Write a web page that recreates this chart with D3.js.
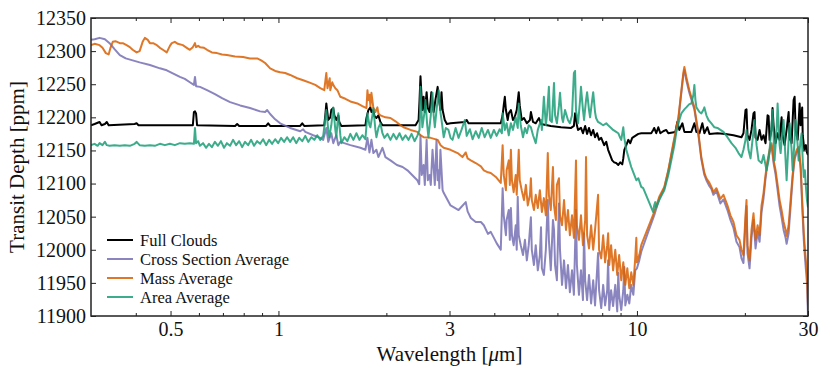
<!DOCTYPE html>
<html>
<head>
<meta charset="utf-8">
<script src="https://cdn.jsdelivr.net/npm/d3@7"></script>
<style>
  body { margin: 0; background: #fff; }
  svg { display: block; }
  text { font-family: "Liberation Serif", "DejaVu Serif", serif; fill: #111; }
</style>
</head>
<body>
<svg></svg>
<script>
// wavelength [um], transit depth [ppm]
const fullClouds = [
  [0.300,12188],[0.307,12190],[0.317,12193],[0.321,12188],[0.328,12190],[0.332,12193],[0.336,12188],[0.397,12190],[0.402,12191],[0.407,12188],
  [0.577,12188],[0.581,12208],[0.585,12209],[0.589,12206],[0.593,12188],[0.757,12187],[0.767,12190],[0.777,12187],[0.924,12187],[0.936,12191],
  [0.948,12187],[1.150,12187],[1.165,12191],[1.180,12187],[1.342,12188],[1.351,12203],[1.36,12221],[1.37,12206],[1.377,12196],[1.395,12200],
  [1.404,12211],[1.422,12214],[1.432,12203],[1.450,12196],[1.469,12203],[1.478,12193],[1.498,12187],[1.748,12188],[1.76,12199],[1.782,12211],
  [1.805,12215],[1.817,12208],[1.84,12211],[1.852,12202],[1.876,12199],[1.90,12203],[1.925,12193],[1.950,12188],[2.412,12188],[2.46,12196],
  [2.475,12226],[2.49,12262],[2.51,12226],[2.52,12211],[2.54,12231],[2.56,12208],[2.59,12238],[2.61,12214],[2.64,12208],[2.67,12238],
  [2.69,12218],[2.71,12208],[2.74,12226],[2.78,12246],[2.80,12229],[2.83,12211],[2.85,12238],[2.87,12211],[2.91,12196],[2.95,12190],
  [3.02,12191],[3.31,12193],[3.35,12196],[3.39,12191],[4.17,12191],[4.22,12203],[4.25,12218],[4.28,12231],[4.31,12211],[4.36,12196],
  [4.39,12206],[4.45,12211],[4.51,12196],[4.56,12200],[4.62,12211],[4.68,12238],[4.71,12218],[4.77,12196],[4.84,12199],[4.93,12191],
  [5.03,12196],[5.06,12208],[5.13,12193],[5.22,12191],[5.33,12199],[5.40,12190],[5.75,12187],[6.14,12185],[6.55,12184],[6.67,12187],
  [6.72,12206],[6.76,12199],[6.80,12188],[6.85,12181],[6.98,12184],[7.07,12176],[7.17,12187],[7.26,12175],[7.35,12184],[7.45,12173],
  [7.55,12181],[7.64,12170],[7.74,12176],[7.84,12166],[7.95,12169],[8.10,12158],[8.21,12163],[8.31,12151],[8.42,12143],[8.53,12135],
  [8.64,12132],[8.75,12131],[8.87,12128],[8.98,12132],[9.10,12129],[9.16,12138],[9.22,12151],[9.34,12158],[9.46,12166],[9.58,12161],
  [9.70,12169],[9.89,12172],[10.09,12175],[10.28,12176],[10.96,12176],[11.10,12181],[11.17,12184],[11.32,12176],[11.47,12185],[11.62,12176],
  [11.84,12179],[12.07,12181],[12.23,12176],[12.80,12178],[12.96,12193],[13.13,12181],[13.39,12191],[13.56,12178],[14.18,12178],[14.46,12191],
  [14.65,12178],[14.94,12176],[15.22,12191],[15.42,12176],[15.72,12185],[15.93,12175],[16.77,12176],[17.66,12175],[18.59,12173],[19.57,12170],
  [19.82,12176],[20.08,12211],[20.21,12212],[20.34,12173],[20.61,12166],[20.87,12181],[21.14,12206],[21.28,12208],[21.42,12169],[21.70,12166],
  [21.98,12181],[22.26,12166],[22.55,12173],[22.84,12161],[23.14,12203],[23.29,12202],[23.44,12166],[23.74,12181],[23.89,12214],[24.05,12188],
  [24.36,12161],[24.68,12176],[25.00,12166],[25.32,12200],[25.48,12173],[25.81,12158],[26.15,12181],[26.49,12208],[26.66,12169],[27.00,12161],
  [27.35,12226],[27.53,12231],[27.71,12181],[28.07,12166],[28.43,12221],[28.61,12188],[28.9,12215],[29.0,12173],[29.3,12151],[29.6,12158],
  [29.8,12147],[30.0,12143]
];

const crossSection = [
  [0.300,12317],[0.307,12318],[0.317,12320],[0.328,12318],[0.338,12312],[0.349,12303],[0.361,12294],[0.375,12289],[0.392,12286],[0.410,12283],
  [0.438,12279],[0.467,12274],[0.488,12271],[0.514,12265],[0.531,12261],[0.548,12258],[0.566,12253],[0.581,12249],[0.585,12261],[0.589,12247],
  [0.604,12246],[0.632,12241],[0.665,12235],[0.696,12229],[0.733,12223],[0.782,12218],[0.833,12214],[0.889,12209],[0.918,12208],[0.930,12211],
  [0.948,12205],[0.979,12197],[1.011,12191],[1.078,12184],[1.150,12179],[1.172,12182],[1.188,12178],[1.25,12173],[1.308,12169],[1.333,12166],
  [1.36,12184],[1.377,12163],[1.404,12176],[1.422,12161],[1.450,12173],[1.469,12158],[1.488,12163],[1.587,12158],[1.692,12154],[1.748,12151],
  [1.771,12169],[1.794,12147],[1.817,12166],[1.84,12146],[1.876,12151],[1.90,12140],[1.95,12154],[1.988,12140],[2.053,12135],[2.14,12128],
  [2.22,12125],[2.29,12120],[2.36,12113],[2.44,12105],[2.47,12099],[2.49,12173],[2.51,12113],[2.54,12128],[2.56,12098],[2.59,12166],
  [2.61,12105],[2.64,12113],[2.66,12098],[2.69,12151],[2.73,12098],[2.76,12166],[2.78,12105],[2.80,12120],[2.81,12093],[2.83,12151],
  [2.87,12090],[2.89,12086],[3.02,12067],[3.18,12060],[3.33,12072],[3.37,12058],[3.44,12048],[3.55,12042],[3.67,12042],[3.74,12037],
  [3.84,12024],[3.91,12027],[3.99,12018],[4.06,12010],[4.17,12000],
  [4.22,12093],[4.25,12052],[4.31,12022],[4.33,12045],[4.39,12060],[4.42,12015],[4.45,12063],[4.48,12022],[4.53,12007],[4.59,12037],
  [4.62,12000],[4.65,12080],[4.68,12022],[4.74,12007],[4.81,11992],[4.87,12015],[4.93,11984],[4.99,12007],[5.06,12049],[5.09,12000],
  [5.16,11977],[5.22,12007],[5.29,11969],[5.36,11992],[5.40,12034],[5.43,11972],[5.50,11962],[5.57,12000],[5.64,12075],[5.68,12015],
  [5.75,11969],[5.83,12045],[5.87,12030],[5.91,11977],[5.98,11954],[6.06,12070],[6.10,12000],[6.18,11947],[6.26,11984],[6.34,11942],
  [6.42,11977],[6.50,11936],[6.59,11969],[6.67,11932],[6.76,12060],[6.80,11977],[6.89,11932],[6.98,11969],[7.07,11924],[7.12,12025],
  [7.17,11954],[7.26,11924],[7.35,11962],[7.45,11919],[7.55,11954],[7.64,11916],[7.79,11995],[7.84,11939],[7.95,11912],[8.05,11947],
  [8.15,11916],[8.26,11939],[8.31,11984],[8.37,11909],[8.47,11939],[8.58,11915],[8.70,11947],[8.81,11907],[8.87,11965],[8.92,11932],
  [9.04,11909],[9.16,11939],[9.22,11974],[9.28,11916],[9.40,11932],[9.52,11919],[9.64,11947],[9.77,11932],[9.89,11969],[10.0,11972],
  [10.15,11984],[10.28,11997],[10.75,12027],[11.17,12052],[11.54,12077],[11.92,12093],[12.23,12119],[12.63,12158],[13.05,12197],[13.47,12264],
  [13.56,12271],[13.73,12256],[14.0,12237],[14.46,12212],[14.84,12173],[15.12,12137],[15.42,12113],[15.62,12105],[15.93,12096],[16.13,12092],
  [16.34,12083],[16.66,12089],[17.09,12070],[17.43,12076],[17.88,12060],[18.23,12045],[18.59,12033],[18.95,12012],[19.32,12004],[19.57,11987],
  [19.82,11980],[20.08,12042],[20.21,12066],[20.34,11995],[20.61,11972],[20.87,12018],[21.14,12045],[21.42,12002],[21.70,12027],[21.98,12012],
  [22.26,12057],[22.55,12078],[22.84,12108],[23.14,12132],[23.44,12147],[23.74,12158],[24.05,12131],[24.36,12114],[24.68,12090],[25.00,12066],
  [25.32,12049],[25.65,12030],[25.98,12018],[26.15,12009],[26.49,12025],[26.83,12066],[27.18,12108],[27.53,12137],[27.89,12147],[28.25,12152],
  [28.61,12123],[28.9,12067],[29.2,12015],[29.5,11980],[29.8,11950],[30.0,11901]
];

const massAverage = [
  [0.300,12309],[0.307,12311],[0.317,12309],[0.323,12305],[0.330,12297],[0.336,12295],[0.340,12305],[0.345,12314],[0.351,12315],[0.361,12312],
  [0.368,12312],[0.377,12309],[0.385,12306],[0.392,12302],[0.402,12298],[0.410,12300],[0.418,12314],[0.424,12320],[0.432,12317],[0.438,12312],
  [0.447,12312],[0.458,12309],[0.467,12305],[0.476,12302],[0.488,12298],[0.498,12308],[0.504,12312],[0.514,12314],[0.524,12311],[0.541,12309],
  [0.555,12305],[0.566,12302],[0.577,12306],[0.585,12312],[0.589,12306],[0.597,12308],[0.604,12306],[0.620,12305],[0.632,12302],[0.652,12298],
  [0.674,12297],[0.696,12295],[0.718,12294],[0.757,12292],[0.797,12291],[0.833,12289],[0.872,12289],[0.895,12286],[0.918,12282],[0.948,12274],
  [0.979,12270],[1.011,12268],[1.044,12267],[1.078,12264],[1.128,12259],[1.172,12256],[1.227,12252],[1.267,12249],[1.308,12244],[1.342,12241],
  [1.36,12267],[1.37,12244],[1.39,12259],[1.395,12241],[1.413,12253],[1.422,12249],[1.441,12244],[1.46,12241],[1.488,12231],[1.537,12228],
  [1.587,12224],[1.66,12221],[1.714,12217],[1.76,12214],[1.771,12241],[1.782,12226],[1.794,12234],[1.805,12217],[1.817,12237],[1.828,12226],
  [1.84,12214],[1.864,12208],[1.888,12215],[1.90,12206],[1.925,12203],[1.988,12200],[2.053,12199],[2.121,12194],[2.190,12188],[2.233,12185],
  [2.336,12181],[2.44,12178],[2.491,12173],[2.54,12170],[2.657,12169],[2.78,12166],[2.833,12158],[2.89,12154],[3.02,12151],[3.16,12146],
  [3.26,12140],[3.33,12147],[3.37,12138],[3.44,12135],[3.55,12131],[3.67,12126],[3.74,12120],[3.84,12117],[3.91,12116],[4.04,12110],
  [4.17,12101],
  [4.22,12158],[4.25,12113],[4.31,12090],[4.33,12120],[4.39,12135],[4.42,12098],[4.45,12151],[4.48,12105],[4.53,12087],[4.59,12113],
  [4.62,12083],[4.68,12151],[4.71,12105],[4.77,12090],[4.84,12075],[4.90,12098],[4.96,12067],[5.03,12083],[5.06,12108],[5.09,12075],
  [5.16,12060],[5.22,12083],[5.29,12063],[5.36,12090],[5.43,12057],[5.50,12078],[5.57,12052],[5.64,12146],[5.68,12083],[5.75,12060],
  [5.83,12125],[5.87,12067],[5.94,12045],[5.98,12098],[6.06,12108],[6.10,12052],[6.18,12037],[6.26,12075],[6.34,12030],[6.42,12060],
  [6.50,12022],[6.59,12052],[6.67,12018],[6.76,12135],[6.80,12037],[6.89,12015],[6.98,12052],[7.07,12007],[7.17,12045],[7.21,12140],
  [7.26,12022],[7.35,12002],[7.45,12037],[7.55,12000],[7.64,12030],[7.79,12083],[7.84,12000],[7.95,11987],[8.05,12022],[8.15,11981],
  [8.26,12007],[8.31,12025],[8.37,11977],[8.47,12007],[8.58,11969],[8.70,12000],[8.81,11962],[8.92,11992],[9.04,11954],[9.16,11981],
  [9.28,11947],[9.40,11972],[9.52,11942],[9.64,11966],[9.77,11947],[9.89,11987],[9.96,12018],[10.0,11981],[10.15,11992],[10.28,12007],
  [10.75,12034],[11.17,12057],[11.54,12080],[11.92,12095],[12.23,12120],[12.63,12161],[13.05,12200],[13.47,12267],[13.56,12276],[13.73,12261],
  [14.0,12241],[14.46,12215],[14.84,12176],[15.12,12140],[15.42,12116],[15.62,12108],[15.93,12101],[16.13,12095],[16.34,12087],[16.66,12093],
  [17.09,12077],[17.43,12083],[17.88,12067],[18.23,12052],[18.59,12042],[18.95,12022],[19.32,12015],[19.57,12000],[19.82,11992],[20.08,12052],
  [20.21,12075],[20.34,12007],[20.61,11984],[20.87,12030],[21.14,12055],[21.42,12015],[21.70,12037],[21.98,12022],[22.26,12067],[22.55,12086],
  [22.84,12113],[23.14,12135],[23.44,12151],[23.74,12161],[24.05,12135],[24.36,12120],[24.68,12098],[25.00,12075],[25.32,12060],[25.65,12042],
  [25.98,12030],[26.15,12021],[26.49,12037],[26.83,12075],[27.18,12113],[27.53,12140],[27.89,12151],[28.25,12155],[28.61,12128],[28.9,12075],
  [29.2,12025],[29.5,11992],[29.8,11965],[30.0,11916]
];

const areaAverage = [
  [0.300,12158],[0.307,12160],[0.313,12157],[0.317,12161],[0.323,12158],[0.328,12163],[0.332,12158],[0.338,12157],[0.349,12158],[0.361,12157],
  [0.3725,12158],[0.385,12157],[0.397,12160],[0.402,12163],[0.410,12158],[0.424,12157],[0.438,12158],[0.452,12157],[0.467,12160],[0.482,12158],
  [0.498,12160],[0.514,12158],[0.531,12161],[0.548,12160],[0.566,12161],[0.581,12160],[0.585,12184],[0.589,12161],[0.597,12164],[0.604,12157],
  [0.616,12161],[0.628,12154],[0.640,12160],[0.652,12155],[0.665,12163],[0.678,12157],[0.691,12164],[0.705,12154],[0.718,12161],[0.733,12157],
  [0.747,12166],[0.762,12158],[0.777,12164],[0.792,12155],[0.807,12163],[0.823,12158],[0.839,12166],[0.855,12157],[0.872,12164],[0.889,12160],
  [0.906,12167],[0.924,12158],[0.942,12166],[0.960,12160],[0.979,12167],[0.998,12161],[1.017,12169],[1.037,12163],[1.057,12170],[1.078,12163],
  [1.099,12170],[1.121,12161],[1.143,12169],[1.165,12164],[1.188,12172],[1.211,12163],[1.235,12170],[1.259,12166],[1.283,12173],[1.308,12166],
  [1.333,12172],[1.36,12211],[1.377,12181],[1.386,12170],[1.404,12188],[1.422,12215],[1.441,12181],[1.450,12170],[1.469,12206],[1.488,12173],
  [1.498,12161],[1.527,12170],[1.557,12164],[1.587,12175],[1.618,12166],[1.650,12176],[1.682,12166],[1.714,12173],[1.748,12167],[1.771,12206],
  [1.794,12188],[1.805,12185],[1.828,12203],[1.84,12214],[1.864,12181],[1.876,12170],[1.90,12184],[1.925,12191],[1.950,12176],[1.975,12169],
  [2.014,12175],[2.053,12166],[2.093,12175],[2.134,12167],[2.176,12176],[2.218,12166],[2.262,12173],[2.306,12166],[2.351,12175],[2.397,12164],
  [2.44,12172],[2.475,12181],[2.49,12246],[2.51,12203],[2.52,12185],[2.56,12211],[2.57,12226],[2.60,12188],[2.62,12170],[2.66,12203],
  [2.69,12237],[2.71,12203],[2.73,12185],[2.76,12211],[2.80,12241],[2.83,12208],[2.85,12196],[2.89,12170],[2.93,12184],[2.98,12181],
  [3.02,12169],[3.06,12166],[3.12,12184],[3.18,12169],[3.24,12181],[3.31,12196],[3.35,12172],[3.42,12182],[3.48,12167],[3.55,12179],
  [3.62,12169],[3.69,12184],[3.76,12170],[3.84,12181],[3.91,12169],[3.99,12181],[4.06,12172],[4.14,12182],[4.20,12176],[4.22,12206],
  [4.28,12181],[4.33,12191],[4.39,12173],[4.45,12191],[4.51,12181],[4.59,12200],[4.65,12184],[4.68,12221],[4.74,12188],[4.81,12170],
  [4.87,12184],[4.93,12176],[4.99,12188],[5.06,12185],[5.13,12173],[5.22,12161],[5.29,12181],[5.40,12196],[5.43,12181],[5.50,12231],
  [5.57,12188],[5.61,12203],[5.68,12246],[5.72,12196],[5.79,12193],[5.87,12252],[5.91,12203],[5.98,12191],[6.06,12218],[6.10,12237],
  [6.18,12199],[6.22,12193],[6.30,12211],[6.34,12206],[6.42,12196],[6.50,12191],[6.59,12203],[6.67,12267],[6.72,12270],[6.76,12211],
  [6.85,12191],[6.94,12226],[6.98,12246],[7.07,12211],[7.12,12196],[7.21,12226],[7.26,12238],[7.35,12211],[7.40,12200],[7.50,12226],
  [7.55,12238],[7.64,12208],[7.69,12199],[7.79,12193],[7.95,12190],[8.05,12188],[8.21,12191],[8.31,12188],[8.47,12184],[8.58,12181],
  [8.75,12178],[8.87,12176],[8.98,12169],[9.04,12166],[9.16,12185],[9.22,12169],[9.34,12151],[9.52,12135],[9.64,12125],[9.83,12113],
  [9.96,12105],[10.09,12108],[10.28,12095],[10.41,12093],[10.75,12075],[10.96,12064],[11.10,12057],[11.17,12067],[11.25,12072],[11.32,12064],
  [11.54,12075],[11.69,12081],[11.92,12090],[12.23,12113],[12.47,12135],[12.72,12158],[12.88,12178],[13.13,12196],[13.30,12206],[13.56,12212],
  [13.73,12215],[14.0,12220],[14.18,12221],[14.37,12234],[14.46,12249],[14.56,12226],[14.65,12215],[14.94,12208],[15.12,12206],[15.32,12211],
  [15.42,12215],[15.62,12203],[15.83,12196],[16.13,12191],[16.45,12185],[16.77,12184],[17.09,12181],[17.43,12178],[17.88,12170],[18.35,12161],
  [18.83,12154],[19.20,12146],[19.57,12140],[19.82,12151],[20.08,12166],[20.21,12181],[20.47,12151],[20.74,12138],[21.01,12166],[21.28,12196],
  [21.56,12158],[21.84,12135],[22.26,12131],[22.55,12143],[22.99,12120],[23.29,12135],[23.44,12151],[23.74,12188],[23.89,12211],[24.20,12135],
  [24.52,12181],[24.68,12221],[25.00,12158],[25.16,12146],[25.48,12181],[25.65,12196],[25.98,12135],[26.15,12105],[26.49,12166],[26.66,12191],
  [27.00,12151],[27.18,12120],[27.53,12166],[27.71,12196],[28.07,12158],[28.25,12135],[28.61,12166],[28.80,12176],[29.0,12135],[29.2,12110],
  [29.4,12120],[29.6,12095],[29.8,12075],[30.0,12064]
];

const seriesNames = ["Full Clouds", "Cross Section Average", "Mass Average", "Area Average"];
const seriesColors = ["#000000", "#7570b3", "#d95f02", "#1b9e77"];
const seriesData = [fullClouds, crossSection, massAverage, areaAverage];

const xMajor = [0.5, 1, 3, 10, 30];
const xMinor = [0.4, 0.6, 0.7, 0.8, 0.9, 2, 4, 5, 6, 7, 8, 9, 20];
const yTicks = [11900, 11950, 12000, 12050, 12100, 12150, 12200, 12250, 12300, 12350];

const width = 830;
const height = 375;
const margin = {top: 18, right: 22, bottom: 59, left: 91};
const innerW = width - margin.left - margin.right;
const innerH = height - margin.top - margin.bottom;

const svg = d3.select("svg")
  .attr("width", width)
  .attr("height", height);

svg.append("rect").attr("width", width).attr("height", height).attr("fill", "#fff");

const x = d3.scaleLog().domain([0.3, 30]).range([0, innerW]);
const y = d3.scaleLinear().domain([11900, 12350]).range([innerH, 0]);

const g = svg.append("g").attr("transform", `translate(${margin.left},${margin.top})`);

g.append("clipPath").attr("id", "plotclip")
  .append("rect").attr("width", innerW).attr("height", innerH);

const line = d3.line()
  .x(d => x(d[0]))
  .y(d => y(d[1]));

const lines = g.append("g").attr("clip-path", "url(#plotclip)");

seriesData.forEach((data, i) => {
  lines.append("path")
    .datum(data)
    .attr("fill", "none")
    .attr("stroke", seriesColors[i])
    .attr("stroke-opacity", i === 0 ? 1 : 0.85)
    .attr("stroke-width", 2)
    .attr("stroke-linejoin", "round")
    .attr("d", line);
});

// axes, ticks pointing inward
const fmt = d3.format("");
const styleAxis = sel => {
  sel.select(".domain").remove();
  sel.selectAll(".tick line").attr("stroke", "#222").attr("stroke-width", 1);
  sel.selectAll("text").style("font-size", "20px").attr("fill", "#111");
};

g.append("g").attr("transform", `translate(0,${innerH})`)
  .call(d3.axisBottom(x).tickValues(xMajor).tickFormat(fmt).tickSizeInner(-5).tickSizeOuter(0).tickPadding(6))
  .call(styleAxis);
g.append("g").attr("transform", `translate(0,${innerH})`)
  .call(d3.axisBottom(x).tickValues(xMinor).tickFormat("").tickSizeInner(-3).tickSizeOuter(0))
  .call(styleAxis);
g.append("g")
  .call(d3.axisTop(x).tickValues(xMajor).tickFormat("").tickSizeInner(-5).tickSizeOuter(0))
  .call(styleAxis);
g.append("g")
  .call(d3.axisTop(x).tickValues(xMinor).tickFormat("").tickSizeInner(-3).tickSizeOuter(0))
  .call(styleAxis);
g.append("g")
  .call(d3.axisLeft(y).tickValues(yTicks).tickFormat(fmt).tickSizeInner(-5).tickSizeOuter(0).tickPadding(5))
  .call(styleAxis);
g.append("g").attr("transform", `translate(${innerW},0)`)
  .call(d3.axisRight(y).tickValues(yTicks).tickFormat("").tickSizeInner(-5).tickSizeOuter(0))
  .call(styleAxis);

g.append("rect")
  .attr("width", innerW)
  .attr("height", innerH)
  .attr("fill", "none")
  .attr("stroke", "#222")
  .attr("stroke-width", 1.5);

// axis titles
const xTitle = svg.append("text")
  .attr("x", margin.left + innerW / 2)
  .attr("y", 361)
  .attr("text-anchor", "middle")
  .style("font-size", "21px");
xTitle.append("tspan").text("Wavelength [");
xTitle.append("tspan").style("font-style", "italic").text("μ");
xTitle.append("tspan").text("m]");

svg.append("text")
  .attr("transform", `translate(24,${margin.top + innerH / 2}) rotate(-90)`)
  .attr("text-anchor", "middle")
  .style("font-size", "21px")
  .text("Transit Depth [ppm]");

// legend
const legend = g.append("g").attr("transform", "translate(16,222)");
seriesNames.forEach((name, i) => {
  const row = legend.append("g").attr("transform", `translate(0,${i * 19})`);
  row.append("line")
    .attr("x1", 0).attr("x2", 26)
    .attr("y1", 0).attr("y2", 0)
    .attr("stroke", seriesColors[i])
    .attr("stroke-opacity", i === 0 ? 1 : 0.85)
    .attr("stroke-width", 2);
  row.append("text")
    .attr("x", 33)
    .attr("y", 0)
    .attr("dy", "0.35em")
    .style("font-size", "16.5px")
    .text(name);
});
</script>
</body>
</html>
